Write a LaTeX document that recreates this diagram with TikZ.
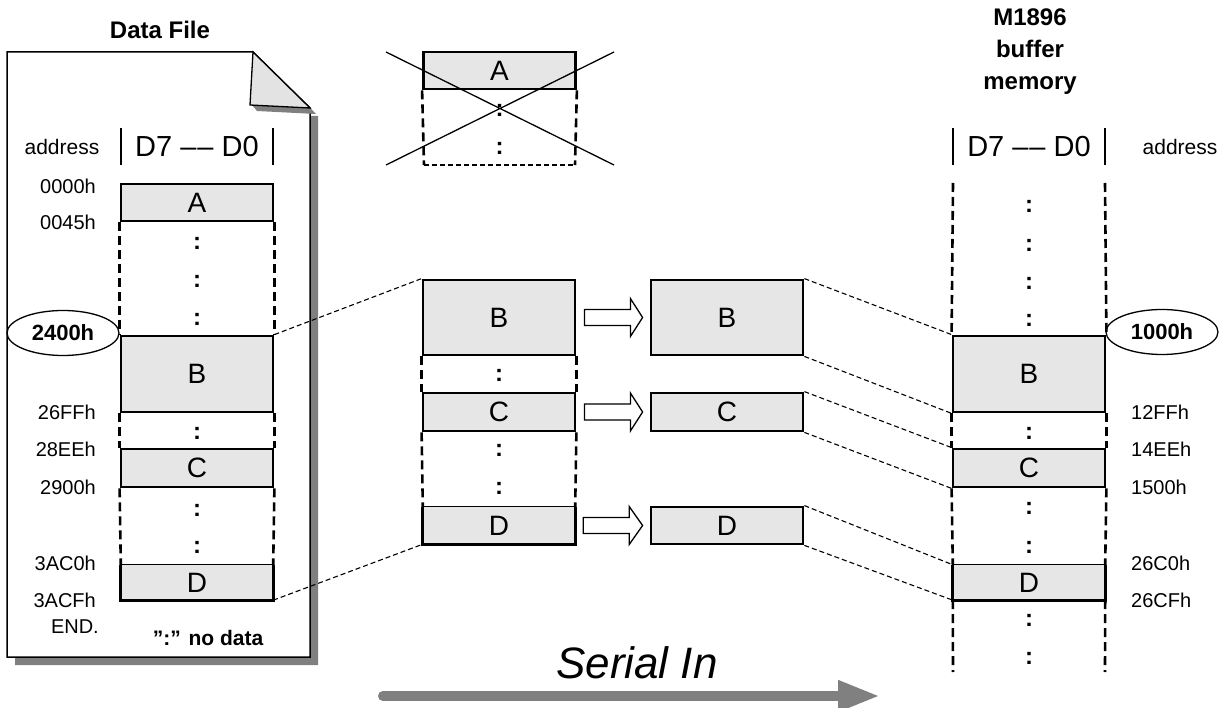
\documentclass[tikz,border=0pt]{standalone}
\usepackage{fontspec}
\setmainfont{Liberation Sans}
\usetikzlibrary{arrows.meta,positioning,calc,shapes.geometric}
\definecolor{MemGrey}{HTML}{E6E6E6}
\definecolor{ShadowGrey}{HTML}{808080}
\definecolor{FoldGrey}{HTML}{E3E3E3}
\newcommand{\hollowarrow}[2]{\draw[harrow] ($(#1.east)+(8,-8)$) -- ++(46,0) -- ++(0,-11) -- ($(#2.west)+(-7,0)$) -- ($(#1.east)+(54,19)$) -- ++(0,-11) -- ($(#1.east)+(8,8)$) -- cycle;}
\newcommand{\thintop}[1]{\draw[rim] (#1.north west) -- (#1.south west) -- (#1.south east) -- (#1.north east); \draw[line width=1pt] (#1.north west) -- (#1.north east);}

\begin{document}
\begin{tikzpicture}[x=1pt,y=-1pt,blk/.style={draw,line width=2.8pt,fill=MemGrey,minimum width=152pt,inner sep=0pt,font=\fontsize{28}{30}\selectfont},blkfill/.style={fill=MemGrey,minimum width=152pt,inner sep=0pt,font=\fontsize{28}{30}\selectfont},rim/.style={line width=2.8pt},gap/.style={line width=2.6pt,dash pattern=on 9pt off 5pt},link/.style={line width=1.1pt,dash pattern=on 5pt off 3pt},addr/.style={font=\fontsize{20}{22}\selectfont,inner sep=0pt},dots/.style={font=\bfseries\fontsize{24}{26}\selectfont,inner sep=0pt},head/.style={font=\fontsize{29}{31}\selectfont,inner sep=0pt},title/.style={font=\bfseries\fontsize{24}{32}\selectfont,align=center,inner sep=0pt},oval/.style={ellipse,draw,line width=1.3pt,minimum width=112pt,minimum height=45pt,inner sep=0pt,font=\bfseries\fontsize{22}{24}\selectfont},harrow/.style={draw,line width=1.3pt,fill=white},serial/.style={line width=10pt,ShadowGrey,line cap=round,-{Triangle[length=42pt,width=29pt]}}]
  \useasboundingbox (0,0) rectangle (1227,708);
  \fill[ShadowGrey] (310,116) -- (318,116) -- (318,665) -- (15,665) -- (15,657) -- (310,657) -- cycle;
  \draw[line width=1.5pt,fill=white] (7,52) -- (253,52) -- (310,108) -- (310,657) -- (7,657) -- cycle;
  \fill[ShadowGrey] (252,105) -- (310,108) -- (316,114) -- (257,111) -- cycle;
  \draw[line width=1.3pt,fill=FoldGrey] (253,52) -- (250,105) -- (310,108) -- cycle;
  \node[title] (dftitle) at (160,30) {Data File};
  \node[title] (m1896) at (1030,52) {M1896\\buffer\\memory};
  \node[addr,font=\fontsize{21}{23}\selectfont] (laddr) at (62,147) {address};
  \node[addr,font=\fontsize{21}{23}\selectfont] (raddr) at (1180,147) {address};
  \node[head] (lhead) at (197,147) {D7 –\kern1pt– D0};
  \node[head] (rhead) at (1029,147) {D7 –\kern1pt– D0};
  \draw[line width=1.6pt] (121,128) -- (121,165) (273,128) -- (273,165) (953,128) -- (953,165) (1105,128) -- (1105,165);
  \node[blk,minimum height=37pt] (lA) at (197,202.5) {A};
  \node[blk,minimum height=76pt] (lB) at (197,374) {B};
  \node[blk,minimum height=38pt] (lC) at (197,468) {C};
  \node[blkfill,minimum height=35pt] (lD) at (197,582.5) {D};
  \thintop{lD}
  \foreach \a/\b in {lA/lB,lB/lC,lC/lD} {\draw[gap] (\a.south west) -- (\b.north west); \draw[gap] (\a.south east) -- (\b.north east);}
  \foreach \y [count=\i] in {243,281,319,433,510,547} \node[dots] (lc\i) at (197,\y) {:};
  \foreach \t/\y [count=\i] in {0000h/186,0045h/222,26FFh/412,28EEh/449,2900h/487,3AC0h/563,3ACFh/600} \node[addr,anchor=east] (la\i) at (96,\y) {\t};
  \node[addr,anchor=east] (lend) at (99,627) {END.};
  \node[addr,font=\bfseries\fontsize{21}{23}\selectfont] (nodata) at (208,638) {”:” no data};
  \node[oval] (l2400) at (63,333) {2400h};
  \node[blk,minimum height=37pt] (xA) at (499.5,70.5) {A};
  \coordinate (xbl) at (424,165);
  \coordinate (xbr) at (575,165);
  \draw[gap] (xA.south west) -- (xbl);
  \draw[gap] (xA.south east) -- (xbr);
  \draw[link] (xbl) -- (xbr);
  \foreach \y [count=\i] in {110,148} \node[dots] (xc\i) at (499.5,\y) {:};
  \draw[line width=1.3pt] (386,52) -- (614,165) (386,165) -- (614,52);
  \node[blk,minimum height=75pt] (sB) at (499,317.5) {B};
  \node[blk,minimum height=38pt] (sC) at (499,412) {C};
  \node[blkfill,minimum height=37pt] (sD) at (499,525.5) {D};
  \thintop{sD}
  \foreach \a/\b in {sB/sC,sC/sD} {\draw[gap] (\a.south west) -- (\b.north west); \draw[gap] (\a.south east) -- (\b.north east);}
  \foreach \y [count=\i] in {375,450,488} \node[dots] (sc\i) at (499,\y) {:};
  \node[blk,minimum height=75pt] (dB) at (727,317.5) {B};
  \node[blk,minimum height=38pt] (dC) at (727,412) {C};
  \node[blk,minimum height=37pt] (dD) at (727,525.5) {D};
  \hollowarrow{sB}{dB}
  \hollowarrow{sC}{dC}
  \hollowarrow{sD}{dD}
  \node[blk,minimum height=76pt] (rB) at (1029,374) {B};
  \node[blk,minimum height=38pt] (rC) at (1029,468) {C};
  \node[blkfill,minimum height=35pt] (rD) at (1029,582.5) {D};
  \thintop{rD}
  \coordinate (rtl) at (953,183);
  \coordinate (rtr) at (1105,183);
  \coordinate (rbl) at (953,672);
  \coordinate (rbr) at (1105,672);
  \draw[gap] (rtl) -- (rB.north west);
  \draw[gap] (rtr) -- (rB.north east);
  \foreach \a/\b in {rB/rC,rC/rD} {\draw[gap] (\a.south west) -- (\b.north west); \draw[gap] (\a.south east) -- (\b.north east);}
  \draw[gap] (rD.south west) -- (rbl);
  \draw[gap] (rD.south east) -- (rbr);
  \foreach \y [count=\i] in {206,245,283,320,433,508,547,620,658} \node[dots] (rc\i) at (1029,\y) {:};
  \foreach \t/\y [count=\i] in {12FFh/412,14EEh/449,1500h/487,26C0h/563,26CFh/600} \node[addr,anchor=west] (ra\i) at (1131,\y) {\t};
  \node[oval] (r1000) at (1162,332) {1000h};
  \draw[link] (lB.north east) -- (sB.north west);
  \draw[link] (lD.south east) -- (sD.south west);
  \foreach \n in {B,C,D} {\draw[link] (d\n.north east) -- (r\n.north west); \draw[link] (d\n.south east) -- (r\n.south west);}
  \node[font=\itshape\fontsize{44}{46}\selectfont,inner sep=0pt] (serialin) at (637,663) {Serial In};
  \coordinate (sin0) at (383,696);
  \coordinate (sin1) at (880,696);
  \draw[serial] (sin0) -- (sin1);
\end{tikzpicture}
\end{document}
